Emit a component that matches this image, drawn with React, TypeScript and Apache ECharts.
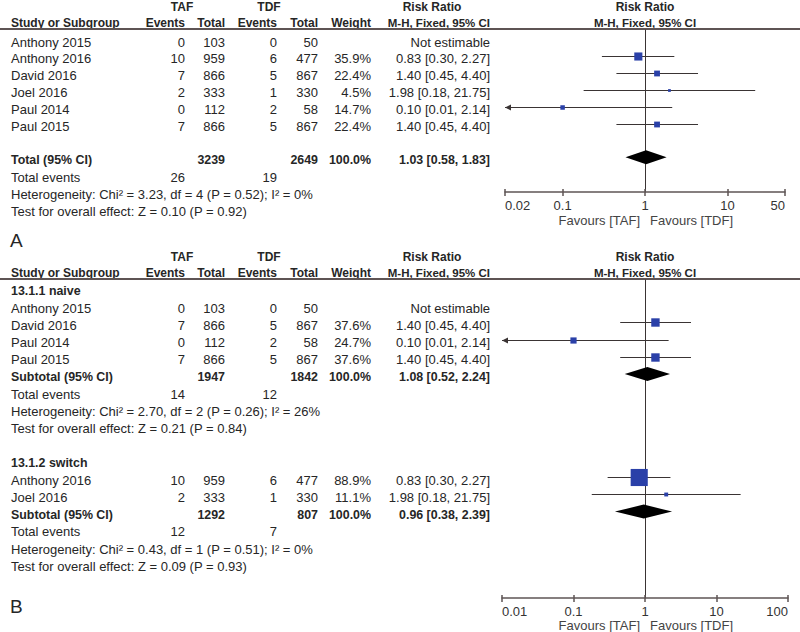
import React, { useEffect, useRef } from "react";
import * as echarts from "echarts";

const FONT_FAMILY = '"Liberation Sans", Arial, Helvetica, sans-serif';
const TEXT_COLOR = "#262626";
const MARKER_COLOR = "#2a40a8";
const LINE_COLOR = "#3a3434";
const RULE_COLOR = "#5e5454";
const HEAD_SIZE = 12;
const MH_SIZE = 11.5;
const BOLD_ROW_SIZE = 12.4;

// ---------------- Panel A : all studies ----------------
const studiesA = ["Anthony 2015", "Anthony 2016", "David 2016", "Joel 2016", "Paul 2014", "Paul 2015"];
const tafEventsA = [0, 10, 7, 2, 0, 7];
const tafTotalA = [103, 959, 866, 333, 112, 866];
const tdfEventsA = [0, 6, 5, 1, 2, 5];
const tdfTotalA = [50, 477, 867, 330, 58, 867];
const weightA: (number | null)[] = [null, 35.9, 22.4, 4.5, 14.7, 22.4];
const rrA: (number | null)[] = [null, 0.83, 1.4, 1.98, 0.1, 1.4];
const lowA: (number | null)[] = [null, 0.3, 0.45, 0.18, 0.01, 0.45];
const highA: (number | null)[] = [null, 2.27, 4.4, 21.75, 2.14, 4.4];
const totalsA = [3239, 2649];
const totalRrA = [1.03, 0.58, 1.83];
const eventsA = [26, 19];
const hetA = "Heterogeneity: Chi\u00b2 = 3.23, df = 4 (P = 0.52); I\u00b2 = 0%";
const testA = "Test for overall effect: Z = 0.10 (P = 0.92)";
const ticksA = [0.02, 0.1, 1, 10, 50];

// ---------------- Panel B : subgroups ----------------
const naiveStudies = ["Anthony 2015", "David 2016", "Paul 2014", "Paul 2015"];
const naiveTafEvents = [0, 7, 0, 7];
const naiveTafTotal = [103, 866, 112, 866];
const naiveTdfEvents = [0, 5, 2, 5];
const naiveTdfTotal = [50, 867, 58, 867];
const naiveWeight: (number | null)[] = [null, 37.6, 24.7, 37.6];
const naiveRr: (number | null)[] = [null, 1.4, 0.1, 1.4];
const naiveLow: (number | null)[] = [null, 0.45, 0.01, 0.45];
const naiveHigh: (number | null)[] = [null, 4.4, 2.14, 4.4];
const naiveTotals = [1947, 1842];
const naiveSubRr = [1.08, 0.52, 2.24];
const naiveEvents = [14, 12];
const naiveHet = "Heterogeneity: Chi\u00b2 = 2.70, df = 2 (P = 0.26); I\u00b2 = 26%";
const naiveTest = "Test for overall effect: Z = 0.21 (P = 0.84)";

const switchStudies = ["Anthony 2016", "Joel 2016"];
const switchTafEvents = [10, 2];
const switchTafTotal = [959, 333];
const switchTdfEvents = [6, 1];
const switchTdfTotal = [477, 330];
const switchWeight: (number | null)[] = [88.9, 11.1];
const switchRr: (number | null)[] = [0.83, 1.98];
const switchLow: (number | null)[] = [0.3, 0.18];
const switchHigh: (number | null)[] = [2.27, 21.75];
const switchTotals = [1292, 807];
const switchSubRr = [0.96, 0.38, 2.39];
const switchEvents = [12, 7];
const switchHet = "Heterogeneity: Chi\u00b2 = 0.43, df = 1 (P = 0.51); I\u00b2 = 0%";
const switchTest = "Test for overall effect: Z = 0.09 (P = 0.93)";
const ticksB = [0.01, 0.1, 1, 10, 100];

// ---------------- layout ----------------
const COL = { study: 11, tafEv: 185, tafTot: 225, tdfEv: 277, tdfTot: 318, weight: 371, ci: 490 };
const PANEL_A = { rule: 29, text0: 42, step: 16.9, left: 505, width: 280, bottom: 192, letterY: 240, favY: 220 };
const PANEL_B = { rule: 279, text0: 291, step: 17.2, left: 502, width: 286, bottom: 598, letterY: 606, favY: 625 };
const MARK_DY = -3;

type Block = {
  title: string | null;
  startRow: number;
  gap: number;
  studies: string[];
  tafEv: number[];
  tafTot: number[];
  tdfEv: number[];
  tdfTot: number[];
  weight: (number | null)[];
  rr: (number | null)[];
  low: (number | null)[];
  high: (number | null)[];
  totalLabel: string;
  totals: number[];
  totalRr: number[];
  events: number[];
  het: string;
  test: string;
};

const fmtCi = (r: number, l: number, h: number) => `${r.toFixed(2)} [${l.toFixed(2)}, ${h.toFixed(2)}]`;

function txt(text: string, x: number, y: number, align = "left", bold = false, size = 13, color = TEXT_COLOR) {
  return {
    type: "text",
    x,
    y,
    silent: true,
    style: {
      text,
      font: `${bold ? "bold " : ""}${size}px ${FONT_FAMILY}`,
      fill: color,
      align,
      verticalAlign: "middle",
      textAlign: align,
      textVerticalAlign: "middle",
    },
  };
}

function headerTexts(rule: number) {
  const y1 = rule - 22;
  const y2 = rule - 6;
  return [
    txt("TAF", 182, y1, "center", true, HEAD_SIZE),
    txt("TDF", 269, y1, "center", true, HEAD_SIZE),
    txt("Risk Ratio", 432, y1, "center", true, HEAD_SIZE),
    txt("Risk Ratio", 645, y1, "center", true, HEAD_SIZE),
    txt("Study or Subgroup", COL.study, y2, "left", true, HEAD_SIZE),
    txt("Events", COL.tafEv, y2, "right", true, HEAD_SIZE),
    txt("Total", COL.tafTot, y2, "right", true, HEAD_SIZE),
    txt("Events", COL.tdfEv, y2, "right", true, HEAD_SIZE),
    txt("Total", COL.tdfTot, y2, "right", true, HEAD_SIZE),
    txt("Weight", COL.weight, y2, "right", true, HEAD_SIZE),
    txt("M-H, Fixed, 95% CI", COL.ci, y2, "right", true, MH_SIZE),
    txt("M-H, Fixed, 95% CI", 645, y2, "center", true, MH_SIZE),
    {
      type: "line",
      silent: true,
      shape: { x1: 0, y1: rule, x2: 800, y2: rule },
      style: { stroke: RULE_COLOR, lineWidth: 2 },
    },
  ];
}

function buildBlock(b: Block, rowText: (r: number) => number) {
  const texts: any[] = [];
  const studyData: number[][] = [];
  const diamondData: number[][] = [];
  let row = b.startRow;
  if (b.title) {
    texts.push(txt(b.title, COL.study, rowText(row), "left", true, BOLD_ROW_SIZE));
    row += 1;
  }
  b.studies.forEach((name, i) => {
    const y = rowText(row);
    texts.push(txt(name, COL.study, y));
    texts.push(txt(String(b.tafEv[i]), COL.tafEv, y, "right"));
    texts.push(txt(String(b.tafTot[i]), COL.tafTot, y, "right"));
    texts.push(txt(String(b.tdfEv[i]), COL.tdfEv, y, "right"));
    texts.push(txt(String(b.tdfTot[i]), COL.tdfTot, y, "right"));
    const w = b.weight[i];
    const r = b.rr[i];
    if (w != null) texts.push(txt(`${w.toFixed(1)}%`, COL.weight, y, "right"));
    if (r != null) {
      const l = b.low[i] as number;
      const h = b.high[i] as number;
      texts.push(txt(fmtCi(r, l, h), COL.ci, y, "right"));
      studyData.push([Math.log10(r), row, Math.log10(l), Math.log10(h), w as number]);
    } else {
      texts.push(txt("Not estimable", COL.ci, y, "right"));
    }
    row += 1;
  });
  row += b.gap;
  let y = rowText(row);
  texts.push(txt(b.totalLabel, COL.study, y, "left", true, BOLD_ROW_SIZE));
  texts.push(txt(String(b.totals[0]), COL.tafTot, y, "right", true, BOLD_ROW_SIZE));
  texts.push(txt(String(b.totals[1]), COL.tdfTot, y, "right", true, BOLD_ROW_SIZE));
  texts.push(txt("100.0%", COL.weight, y, "right", true, BOLD_ROW_SIZE));
  texts.push(txt(fmtCi(b.totalRr[0], b.totalRr[1], b.totalRr[2]), COL.ci, y, "right", true, BOLD_ROW_SIZE));
  diamondData.push([Math.log10(b.totalRr[0]), row, Math.log10(b.totalRr[1]), Math.log10(b.totalRr[2])]);
  row += 1;
  y = rowText(row);
  texts.push(txt("Total events", COL.study, y));
  texts.push(txt(String(b.events[0]), COL.tafEv, y, "right"));
  texts.push(txt(String(b.events[1]), COL.tdfEv, y, "right"));
  row += 1;
  texts.push(txt(b.het, COL.study, rowText(row)));
  row += 1;
  texts.push(txt(b.test, COL.study, rowText(row)));
  return { texts, studyData, diamondData };
}

function studyRenderer(xMin: number, xMax: number) {
  return (_params: any, api: any) => {
    const row = api.value(1);
    const c = api.coord([api.value(0), row]);
    const lo = api.value(2);
    const hi = api.value(3);
    const xl = api.coord([Math.max(lo, xMin), row])[0];
    const xr = api.coord([Math.min(hi, xMax), row])[0];
    const s = 2 + 0.17 * api.value(4);
    const y = Math.round(c[1]) + 0.5;
    const children: any[] = [
      { type: "line", shape: { x1: xl, y1: y, x2: xr, y2: y }, style: { stroke: LINE_COLOR, lineWidth: 1 } },
      {
        type: "rect",
        shape: { x: c[0] - s / 2, y: y - s / 2, width: s, height: s },
        style: { fill: MARKER_COLOR },
      },
    ];
    if (lo <= xMin + 1e-9) {
      children.push({
        type: "polygon",
        shape: { points: [[xl, y], [xl + 6, y - 3], [xl + 6, y + 3]] },
        style: { fill: LINE_COLOR },
      });
    }
    if (hi >= xMax - 1e-9) {
      children.push({
        type: "polygon",
        shape: { points: [[xr, y], [xr - 6, y - 3], [xr - 6, y + 3]] },
        style: { fill: LINE_COLOR },
      });
    }
    return { type: "group", children };
  };
}

function diamondRenderer(_params: any, api: any) {
  const row = api.value(1);
  const c = api.coord([api.value(0), row]);
  const l = api.coord([api.value(2), row]);
  const h = api.coord([api.value(3), row]);
  return {
    type: "polygon",
    shape: { points: [[l[0], c[1]], [c[0], c[1] - 7], [h[0], c[1]], [c[0], c[1] + 7]] },
    style: { fill: "#000000" },
  };
}

export default function App() {
  const ref = useRef<HTMLDivElement>(null);

  useEffect(() => {
    if (!ref.current) return;
    const chart = echarts.init(ref.current, undefined, { renderer: "svg" });

    const textA = (r: number) => PANEL_A.text0 + PANEL_A.step * r;
    const textB = (r: number) => PANEL_B.text0 + PANEL_B.step * r;

    const blockA = buildBlock(
      {
        title: null,
        startRow: 0,
        gap: 1,
        studies: studiesA,
        tafEv: tafEventsA,
        tafTot: tafTotalA,
        tdfEv: tdfEventsA,
        tdfTot: tdfTotalA,
        weight: weightA,
        rr: rrA,
        low: lowA,
        high: highA,
        totalLabel: "Total (95% CI)",
        totals: totalsA,
        totalRr: totalRrA,
        events: eventsA,
        het: hetA,
        test: testA,
      },
      textA
    );
    const blockNaive = buildBlock(
      {
        title: "13.1.1 naive",
        startRow: 0,
        gap: 0,
        studies: naiveStudies,
        tafEv: naiveTafEvents,
        tafTot: naiveTafTotal,
        tdfEv: naiveTdfEvents,
        tdfTot: naiveTdfTotal,
        weight: naiveWeight,
        rr: naiveRr,
        low: naiveLow,
        high: naiveHigh,
        totalLabel: "Subtotal (95% CI)",
        totals: naiveTotals,
        totalRr: naiveSubRr,
        events: naiveEvents,
        het: naiveHet,
        test: naiveTest,
      },
      textB
    );
    const blockSwitch = buildBlock(
      {
        title: "13.1.2 switch",
        startRow: 10,
        gap: 0,
        studies: switchStudies,
        tafEv: switchTafEvents,
        tafTot: switchTafTotal,
        tdfEv: switchTdfEvents,
        tdfTot: switchTdfTotal,
        weight: switchWeight,
        rr: switchRr,
        low: switchLow,
        high: switchHigh,
        totalLabel: "Subtotal (95% CI)",
        totals: switchTotals,
        totalRr: switchSubRr,
        events: switchEvents,
        het: switchHet,
        test: switchTest,
      },
      textB
    );

    const panels = [
      { P: PANEL_A, ticks: ticksA },
      { P: PANEL_B, ticks: ticksB },
    ];

    const grids: any[] = [];
    const xAxes: any[] = [];
    const yAxes: any[] = [];
    panels.forEach(({ P, ticks }, gi) => {
      const top = P.rule + 1;
      grids.push({
        left: P.left,
        width: P.width,
        top,
        height: P.bottom - top,
        containLabel: false,
        outerBoundsMode: "none",
      });
      const tickLogs = ticks.map((t) => Math.log10(t));
      const xMin = tickLogs[0];
      const xMax = tickLogs[tickLogs.length - 1];
      const fmt = (v: number) => {
        let best = ticks[0];
        ticks.forEach((t) => {
          if (Math.abs(Math.log10(t) - v) < Math.abs(Math.log10(best) - v)) best = t;
        });
        return String(best);
      };
      xAxes.push({
        type: "value",
        gridIndex: gi,
        position: "bottom",
        min: xMin,
        max: xMax,
        splitLine: { show: false },
        axisLine: { show: true, onZero: false, lineStyle: { color: RULE_COLOR, width: 1.5 } },
        axisTick: { show: true, customValues: tickLogs, length: 4, lineStyle: { color: RULE_COLOR, width: 1.5 } },
        axisLabel: {
          show: true,
          customValues: tickLogs,
          formatter: fmt,
          margin: 7,
          color: "#333333",
          fontFamily: FONT_FAMILY,
          fontSize: 13,
          alignMinLabel: "left",
          alignMaxLabel: "right",
        },
      });
      xAxes.push({
        type: "value",
        gridIndex: gi,
        position: "bottom",
        offset: 0,
        min: xMin,
        max: xMax,
        splitLine: { show: false },
        axisLine: { show: false, onZero: false },
        axisTick: { show: true, inside: true, customValues: tickLogs, length: 3, lineStyle: { color: RULE_COLOR, width: 1.5 } },
        axisLabel: { show: false },
      });
      const row0 = P.text0 + MARK_DY;
      yAxes.push({
        type: "value",
        gridIndex: gi,
        inverse: true,
        min: (top - row0) / P.step,
        max: (P.bottom - row0) / P.step,
        splitLine: { show: false },
        axisTick: { show: false },
        axisLabel: { show: false },
        axisLine: { show: true, onZero: true, lineStyle: { color: LINE_COLOR, width: 1 } },
      });
    });

    const minA = Math.log10(ticksA[0]);
    const maxA = Math.log10(ticksA[ticksA.length - 1]);
    const minB = Math.log10(ticksB[0]);
    const maxB = Math.log10(ticksB[ticksB.length - 1]);

    const favours = (P: typeof PANEL_A) => [
      txt("Favours [TAF]", 640, P.favY, "right", false, 13, "#444444"),
      txt("Favours [TDF]", 650, P.favY, "left", false, 13, "#444444"),
    ];

    const graphic = [
      ...headerTexts(PANEL_A.rule),
      ...headerTexts(PANEL_B.rule),
      ...blockA.texts,
      ...blockNaive.texts,
      ...blockSwitch.texts,
      ...favours(PANEL_A),
      ...favours(PANEL_B),
      txt("A", 10, PANEL_A.letterY, "left", false, 19),
      txt("B", 10, PANEL_B.letterY, "left", false, 19),
    ];

    chart.setOption({
      animation: false,
      backgroundColor: "#ffffff",
      grid: grids,
      xAxis: xAxes,
      yAxis: yAxes,
      graphic,
      series: [
        {
          type: "custom",
          xAxisIndex: 0,
          yAxisIndex: 0,
          clip: false,
          renderItem: studyRenderer(minA, maxA),
          data: blockA.studyData,
          silent: true,
        },
        {
          type: "custom",
          xAxisIndex: 0,
          yAxisIndex: 0,
          clip: false,
          renderItem: diamondRenderer,
          data: blockA.diamondData,
          silent: true,
        },
        {
          type: "custom",
          xAxisIndex: 2,
          yAxisIndex: 1,
          clip: false,
          renderItem: studyRenderer(minB, maxB),
          data: [...blockNaive.studyData, ...blockSwitch.studyData],
          silent: true,
        },
        {
          type: "custom",
          xAxisIndex: 2,
          yAxisIndex: 1,
          clip: false,
          renderItem: diamondRenderer,
          data: [...blockNaive.diamondData, ...blockSwitch.diamondData],
          silent: true,
        },
      ],
    });

    return () => chart.dispose();
  }, []);

  return (
    <div
      ref={ref}
      style={{ position: "absolute", left: 0, top: 0, width: 800, height: 632, background: "#ffffff" }}
    />
  );
}
